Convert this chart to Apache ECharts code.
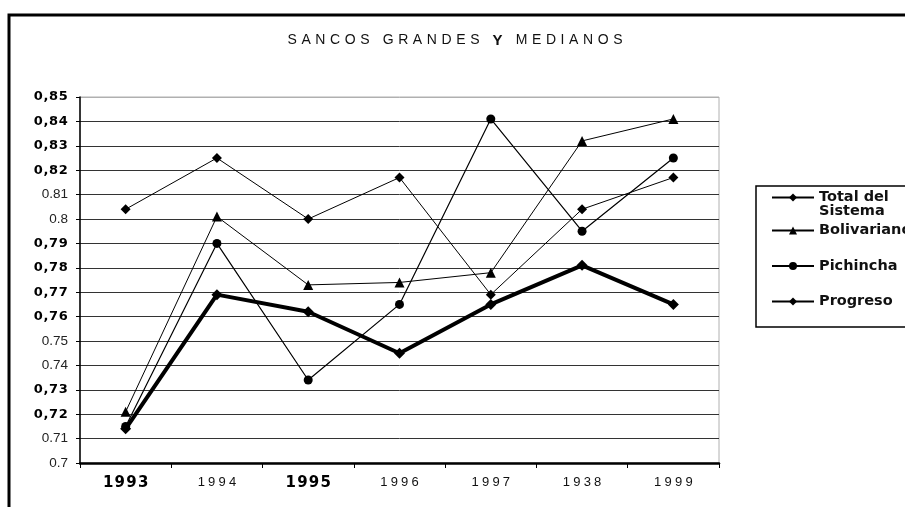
<!DOCTYPE html>
<html>
<head>
    <meta charset="utf-8">
    <title>Bancos grandes y medianos</title>
    <script src="https://cdn.jsdelivr.net/npm/echarts@6/dist/echarts.min.js"></script>
    <style>
        html, body { margin: 0; padding: 0; background: #fff; }
    </style>
</head>
<body>
    <div id="main" style="width:905px;height:507px;"></div>
    <script type="text/javascript">
        // datos
        var years = ["1993", "1994", "1995", "1996", "1997", "1938", "1999"];
        var boldYears = ["1993", "1995"];
        var total = [0.714, 0.769, 0.762, 0.745, 0.765, 0.781, 0.765];
        var bolivariano = [0.721, 0.801, 0.773, 0.774, 0.778, 0.832, 0.841];
        var pichincha = [0.715, 0.790, 0.734, 0.765, 0.841, 0.795, 0.825];
        var progreso = [0.804, 0.825, 0.800, 0.817, 0.769, 0.804, 0.817];
        // etiquetas del eje y, de 0.7 a 0.85
        var yLabels = ["0.7", "0.71", "0,72", "0,73", "0.74", "0.75", "0,76", "0,77",
                       "0,78", "0,79", "0.8", "0.81", "0,82", "0,83", "0,84", "0,85"];
        var titleText = "SANCOS GRANDES Y MEDIANOS";

        var font = "Liberation Sans";
        var wide = "DejaVu Sans";
        var myChart = echarts.init(document.getElementById("main"));

        // texto espaciado: cada letra como token rich con relleno lateral
        function spaced(str, style, boldChar) {
            return str.split("").map(function (c) {
                if (c == " ") return "{" + style + "| }";
                return "{" + (c == boldChar ? style + "B" : style) + "|" + c + "}";
            }).join("");
        }

        var gridColors = [];
        for (var i = 0; i < yLabels.length; i++) {
            gridColors.push(i == yLabels.length - 1 ? "#b0b0b0" : "#333");
        }

        var legendText = { fontFamily: wide, fontSize: 14.5, fontWeight: "bold", color: "#111", lineHeight: 14 };

        var option = {
            animation: false,
            backgroundColor: "#fff",
            title: {
                text: spaced(titleText, "t", "Y"),
                left: 450,
                top: 28,
                textAlign: "center",
                textStyle: {
                    fontFamily: font,
                    fontSize: 14,
                    fontWeight: "normal",
                    color: "#111",
                    rich: {
                        t: { fontFamily: font, fontSize: 14, color: "#111", padding: [0, 2.3, 0, 2.3] },
                        tB: { fontFamily: font, fontSize: 15, fontWeight: "bold", color: "#111", padding: [0, 2.3, 0, 2.3] }
                    }
                }
            },
            grid: {
                left: 80,
                right: 186,
                top: 97,
                bottom: 44,
                show: true,
                borderColor: "#b0b0b0",
                borderWidth: 1
            },
            legend: [{
                left: 771,
                top: 176,
                padding: 0,
                itemWidth: 42,
                itemHeight: 10,
                itemGap: 4,
                data: ["Total del\nSistema"],
                // linea vacia arriba para que el icono quede en la primera linea
                formatter: function (name) { return "\n" + name; },
                textStyle: legendText
            }, {
                left: 771,
                top: 223,
                padding: 0,
                orient: "vertical",
                itemWidth: 42,
                itemHeight: 10,
                itemGap: 20.5,
                data: ["Bolivariano", "Pichincha", "Progreso"],
                textStyle: legendText
            }],
            xAxis: {
                type: "category",
                data: years,
                boundaryGap: true,
                axisLine: { lineStyle: { color: "#000", width: 2.5 } },
                axisTick: { show: true, interval: 0, length: 5, lineStyle: { color: "#000", width: 1 } },
                axisLabel: {
                    interval: 0,
                    hideOverlap: false,
                    margin: 13,
                    formatter: function (v) {
                        return boldYears.indexOf(v) >= 0 ? spaced(v, "b") : spaced(v, "n");
                    },
                    rich: {
                        b: { fontFamily: wide, fontSize: 15, fontWeight: "bold", color: "#000", padding: [0, 0.6, 0, 0.6] },
                        n: { fontFamily: font, fontSize: 13, color: "#111", padding: [0, 1.6, 0, 1.6] }
                    }
                },
                splitLine: { show: false }
            },
            yAxis: {
                type: "value",
                min: 0.7,
                max: 0.85,
                interval: 0.01,
                axisLine: { show: true, lineStyle: { color: "#000", width: 1.5 } },
                axisTick: { show: true, length: 4, lineStyle: { color: "#000" } },
                axisLabel: {
                    margin: 12,
                    formatter: function (v) {
                        var t = yLabels[Math.round((v - 0.7) * 100)];
                        return t.indexOf(",") >= 0 ? spaced(t, "b") : "{n|" + t + "}";
                    },
                    rich: {
                        b: { fontFamily: wide, fontSize: 13, fontWeight: "bold", color: "#000", padding: [0, 0.3, 0, 0.3] },
                        n: { fontFamily: font, fontSize: 13.5, color: "#222" }
                    }
                },
                splitLine: { show: true, lineStyle: { color: gridColors, width: 1 } }
            },
            series: [{
                name: "Total del\nSistema",
                type: "line",
                data: total,
                symbol: "diamond",
                symbolSize: 11,
                lineStyle: { color: "#000", width: 4 },
                itemStyle: { color: "#000" },
                z: 5
            }, {
                name: "Bolivariano",
                type: "line",
                data: bolivariano,
                symbol: "triangle",
                symbolSize: 10,
                lineStyle: { color: "#000", width: 1 },
                itemStyle: { color: "#000" }
            }, {
                name: "Pichincha",
                type: "line",
                data: pichincha,
                symbol: "circle",
                symbolSize: 9,
                lineStyle: { color: "#000", width: 1.2 },
                itemStyle: { color: "#000" }
            }, {
                name: "Progreso",
                type: "line",
                data: progreso,
                symbol: "diamond",
                symbolSize: 10,
                lineStyle: { color: "#000", width: 1 },
                itemStyle: { color: "#000" }
            }],
            graphic: [{
                type: "rect",
                shape: { x: 9, y: 15, width: 1000, height: 600 },
                style: { fill: null, stroke: "#000", lineWidth: 3 },
                silent: true
            }, {
                type: "rect",
                shape: { x: 756, y: 186, width: 200, height: 141 },
                style: { fill: null, stroke: "#000", lineWidth: 1.5 },
                silent: true
            }]
        };
        myChart.setOption(option);
    </script>
</body>
</html>
